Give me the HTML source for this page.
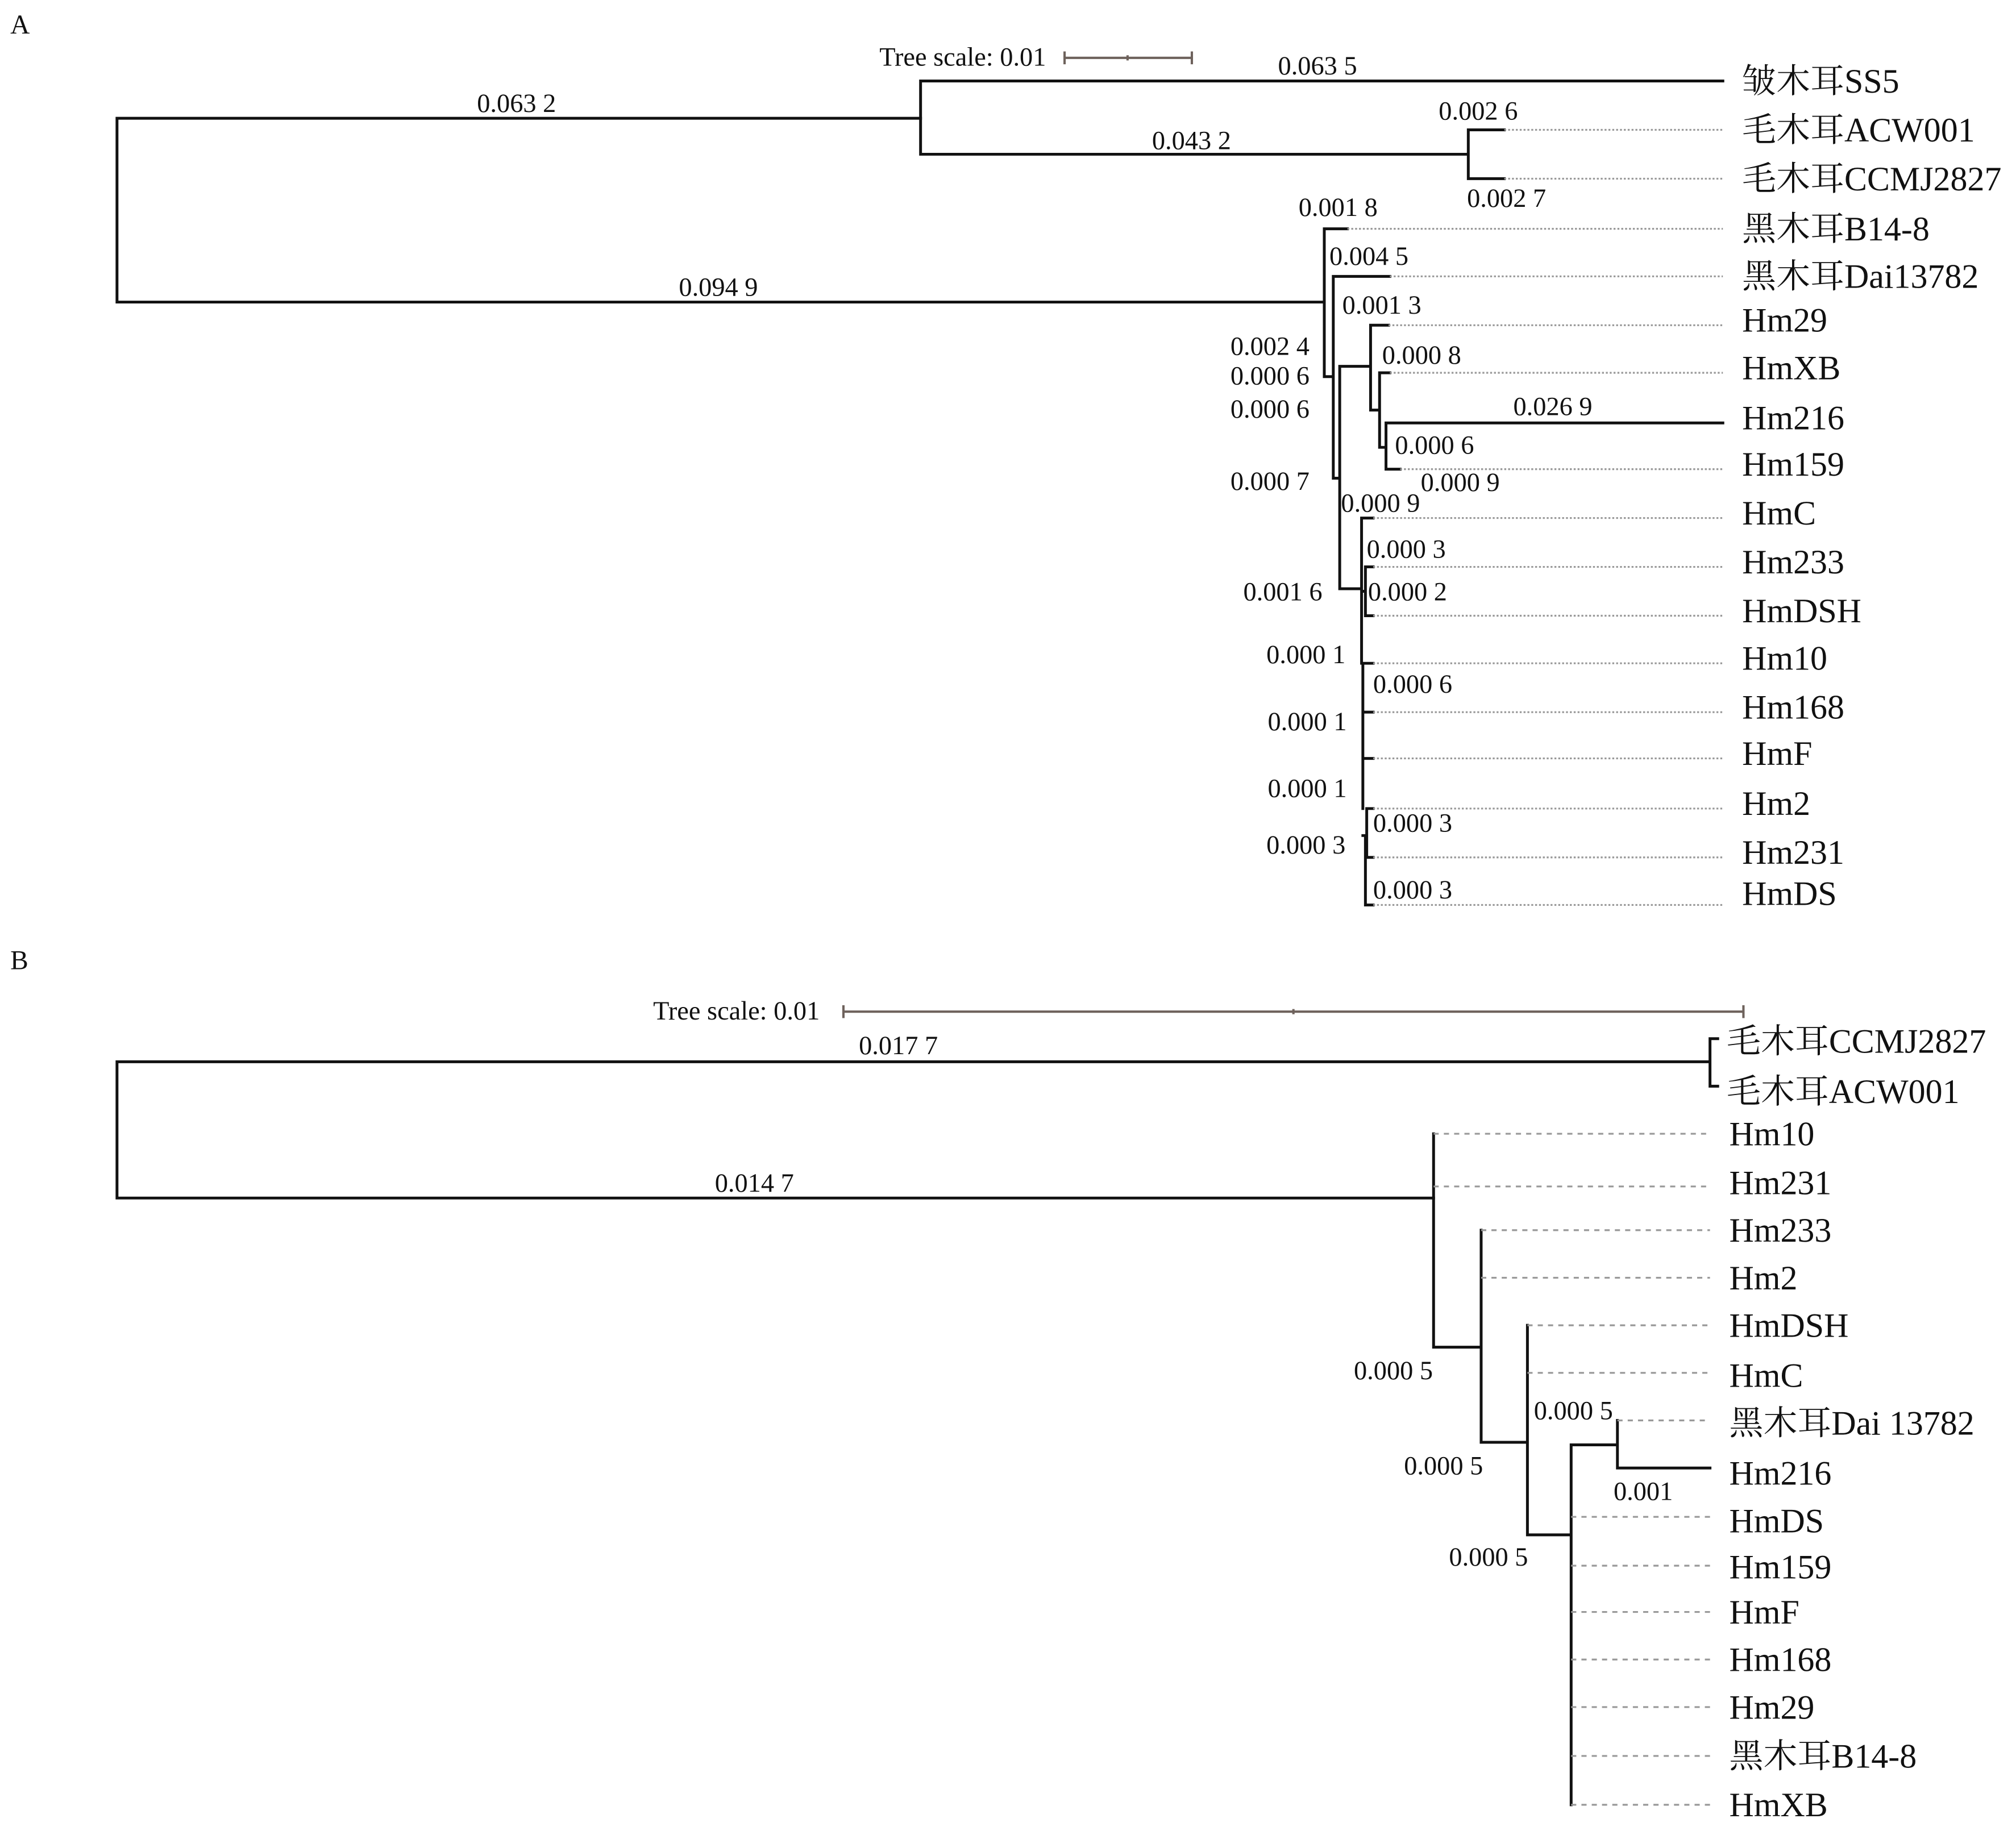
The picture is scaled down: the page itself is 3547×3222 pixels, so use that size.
<!DOCTYPE html>
<html><head><meta charset="utf-8"><style>
html,body{margin:0;padding:0;background:#fff;}
svg{display:block;}
text{font-family:"Liberation Serif","Noto Serif CJK SC","Noto Sans CJK SC",serif;fill:#111;}
.lf{font-size:26.5px;}
.bl{font-size:20.5px;}
.s{stroke:#111;stroke-width:2.2;fill:none;stroke-linecap:square;}
.d{stroke:#999;stroke-width:1.4;stroke-dasharray:1.5 1.5;fill:none;}
.d2{stroke:#999;stroke-width:1.4;stroke-dasharray:4 4;fill:none;}
.sc{stroke:#6e625c;stroke-width:1.8;fill:none;}
</style></head><body>
<svg width="3547" height="3222" viewBox="0 0 1568 1424.4" preserveAspectRatio="none" xmlns="http://www.w3.org/2000/svg">
<!-- Panel A -->
<text x="8" y="26" class="lf" style="font-size:21px">A</text>
<text x="684" y="51" class="bl">Tree scale: 0.01</text>
<path class="sc" d="M828 45H927M828 40V50M927 40V50M877 43V47"/>
<path class="s" d="M91 92V235M91 92H716M91 235H1030"/>
<text x="371" y="87" class="bl">0.063 2</text>
<text x="528" y="230" class="bl">0.094 9</text>
<path class="s" d="M716 63V120M716 63H1340M716 120H1142M1142 101V139M1142 101H1170M1142 139H1170"/>
<text x="994" y="58" class="bl">0.063 5</text>
<text x="896" y="116" class="bl">0.043 2</text>
<text x="1119" y="93" class="bl">0.002 6</text>
<text x="1141" y="161" class="bl">0.002 7</text>
<path class="d" d="M1170 101H1340M1170 139H1340"/>
<!-- lower clade A -->
<path class="s" d="M1030 178V293M1030 178H1048M1030 293H1037M1037 215V372M1037 215H1081M1037 372H1042M1042 285V458M1042 285H1066M1066 253V319M1066 253H1080M1066 319H1073M1073 290V348M1073 290H1081M1073 348H1078M1078 329V365M1078 329H1340M1078 365H1089M1042 458H1059M1059 403V516M1059 403H1068M1062 441V479M1059 460H1062M1062 441H1068M1062 479H1068M1059 516H1068M1060 516V629M1060 554H1068M1060 590H1068M1063 629V667M1060 650H1063M1063 629H1068M1063 667H1068M1062 650V704M1062 704H1068"/>
<path class="d" d="M1048 178H1340M1081 215H1340M1080 253H1340M1081 290H1340M1089 365H1340M1068 403H1340M1068 441H1340M1068 479H1340M1068 516H1340M1068 554H1340M1068 590H1340M1068 629H1340M1068 667H1340M1068 704H1340"/>
<text x="1010" y="168" class="bl">0.001 8</text>
<text x="1034" y="206" class="bl">0.004 5</text>
<text x="1044" y="244" class="bl">0.001 3</text>
<text x="1075" y="283" class="bl">0.000 8</text>
<text x="1177" y="323" class="bl">0.026 9</text>
<text x="1085" y="353" class="bl">0.000 6</text>
<text x="1105" y="382" class="bl">0.000 9</text>
<text x="957" y="276" class="bl">0.002 4</text>
<text x="957" y="299" class="bl">0.000 6</text>
<text x="957" y="325" class="bl">0.000 6</text>
<text x="957" y="381" class="bl">0.000 7</text>
<text x="1043" y="398" class="bl">0.000 9</text>
<text x="1063" y="434" class="bl">0.000 3</text>
<text x="1064" y="467" class="bl">0.000 2</text>
<text x="967" y="467" class="bl">0.001 6</text>
<text x="985" y="516" class="bl">0.000 1</text>
<text x="1068" y="539" class="bl">0.000 6</text>
<text x="986" y="568" class="bl">0.000 1</text>
<text x="986" y="620" class="bl">0.000 1</text>
<text x="985" y="664" class="bl">0.000 3</text>
<text x="1068" y="647" class="bl">0.000 3</text>
<text x="1068" y="699" class="bl">0.000 3</text>
<g class="lf">
<text x="1355" y="72">皱木耳SS5</text>
<text x="1355" y="110">毛木耳ACW001</text>
<text x="1355" y="148">毛木耳CCMJ2827</text>
<text x="1355" y="187">黑木耳B14-8</text>
<text x="1355" y="224">黑木耳Dai13782</text>
<text x="1355" y="258">Hm29</text>
<text x="1355" y="295">HmXB</text>
<text x="1355" y="334">Hm216</text>
<text x="1355" y="370">Hm159</text>
<text x="1355" y="408">HmC</text>
<text x="1355" y="446">Hm233</text>
<text x="1355" y="484">HmDSH</text>
<text x="1355" y="521">Hm10</text>
<text x="1355" y="559">Hm168</text>
<text x="1355" y="595">HmF</text>
<text x="1355" y="634">Hm2</text>
<text x="1355" y="672">Hm231</text>
<text x="1355" y="704">HmDS</text>
</g>
<!-- Panel B -->
<text x="8" y="754" class="lf" style="font-size:21px">B</text>
<text x="508" y="793" class="bl">Tree scale: 0.01</text>
<path class="sc" d="M656 787H1356M656 782V792M1356 782V792M1006 785V789"/>
<path class="s" d="M91 826V932M91 826H1330M1330 808V845M1330 808H1336M1330 845H1336M91 932H1115"/>
<text x="668" y="820" class="bl">0.017 7</text>
<text x="556" y="927" class="bl">0.014 7</text>
<path class="s" d="M1115 882V1048M1115 1048H1152M1152 957V1122M1152 1122H1188M1188 1031V1194M1188 1194H1222M1222 1124V1404M1222 1124H1258M1258 1105V1142M1258 1142H1330"/>
<path class="d2" d="M1115 882H1330M1115 923H1330M1152 957H1330M1152 994H1330M1188 1031H1330M1188 1068H1330M1258 1105H1330M1222 1180H1330M1222 1218H1330M1222 1254H1330M1222 1291H1330M1222 1328H1330M1222 1366H1330M1222 1404H1330"/>
<text x="1053" y="1073" class="bl">0.000 5</text>
<text x="1092" y="1147" class="bl">0.000 5</text>
<text x="1193" y="1104" class="bl">0.000 5</text>
<text x="1255" y="1167" class="bl">0.001</text>
<text x="1127" y="1218" class="bl">0.000 5</text>
<g class="lf">
<text x="1343" y="819">毛木耳CCMJ2827</text>
<text x="1343" y="858">毛木耳ACW001</text>
<text x="1345" y="891">Hm10</text>
<text x="1345" y="929">Hm231</text>
<text x="1345" y="966">Hm233</text>
<text x="1345" y="1003">Hm2</text>
<text x="1345" y="1040">HmDSH</text>
<text x="1345" y="1079">HmC</text>
<text x="1345" y="1116">黑木耳Dai 13782</text>
<text x="1345" y="1155">Hm216</text>
<text x="1345" y="1192">HmDS</text>
<text x="1345" y="1228">Hm159</text>
<text x="1345" y="1263">HmF</text>
<text x="1345" y="1300">Hm168</text>
<text x="1345" y="1337">Hm29</text>
<text x="1345" y="1375">黑木耳B14-8</text>
<text x="1345" y="1413">HmXB</text>
</g>
</svg>
</body></html>
